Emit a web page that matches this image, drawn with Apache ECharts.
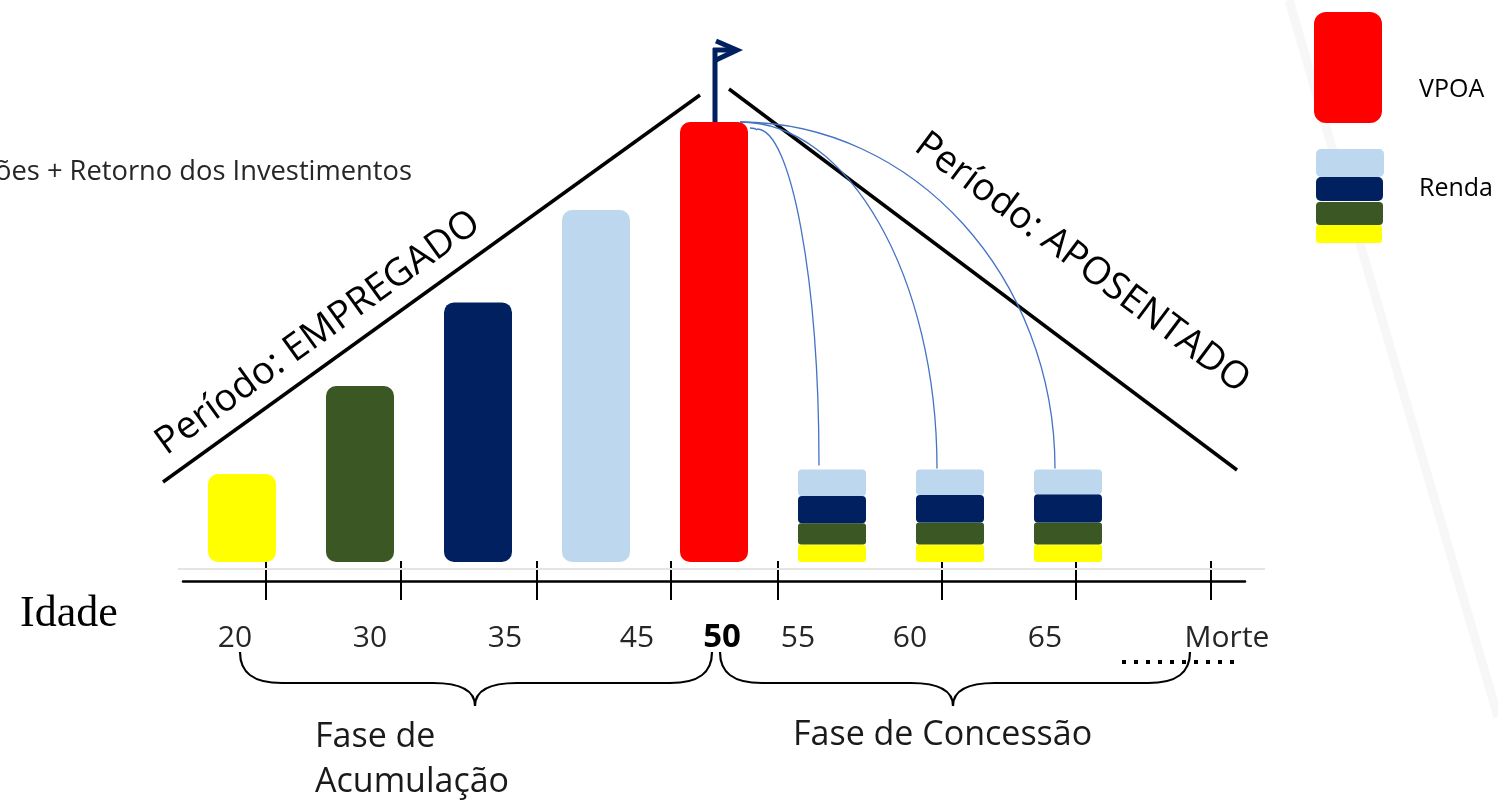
<!DOCTYPE html>
<html><head><meta charset="utf-8">
<script src="https://cdn.jsdelivr.net/npm/echarts@6/dist/echarts.min.js"></script>
<style>html,body{margin:0;padding:0;background:#fff}#c{width:1498px;height:802px}</style>
</head><body><div id="c"></div>
<script>
// ---- data ----
const ages = ['20', '30', '35', '45', '50', '55', '60', '65', 'Morte'];
const contribution = [1, 2, 2.95, 4, null, null, null, null, null];
const vpoa = [null, null, null, null, 5, null, null, null, null];
const rendaYellow = [null, null, null, null, null, 0.2, 0.2, 0.2, null];
const rendaGreen = [null, null, null, null, null, 0.24, 0.25, 0.25, null];
const rendaNavy = [null, null, null, null, null, 0.31, 0.31, 0.32, null];
const rendaLight = [null, null, null, null, null, 0.3, 0.29, 0.28, null];

// ---- layout / style (not data) ----
const stageColors = ['#FFFF00', '#3A5724', '#002060', '#BDD7EE'];
const labelNudge = [-7, 10, 27, 41, 8, -34, -40, -23, 41];
const tickSlots = [0.203, 1.347, 2.5, 3.636, 4.542, 5.932, 7.068, 8.212];
const FONT = '"Open Sans", "Noto Sans", sans-serif';

const rich = {};
ages.forEach((a, i) => {
  const d = labelNudge[i];
  rich['n' + i] = {
    fontFamily: FONT, fontSize: 30, color: '#262626', lineHeight: 36,
    padding: d >= 0 ? [0, 0, 0, 2 * d] : [0, -2 * d, 0, 0]
  };
});
rich.b = { fontFamily: FONT, fontSize: 33, fontWeight: 'bold', color: '#000', lineHeight: 36,
  padding: [0, 0, 0, 2 * labelNudge[4]] };

const chart = echarts.init(document.getElementById('c'));
const barBase = { type: 'bar', barWidth: 68, barGap: '-100%', xAxisIndex: 0, yAxisIndex: 0 };

chart.setOption({
  animation: false,
  backgroundColor: '#fff',
  grid: { left: 183, right: 253, top: 122, bottom: 240 },
  xAxis: [
    { type: 'category', data: ages, position: 'bottom',
      axisLine: { show: false },
      axisTick: { show: false },
      axisLabel: { interval: 0, margin: 58,
        formatter: (v, i) => (i === 4 ? '{b|' + v + '}' : '{n' + i + '|' + v + '}'), rich: rich },
      splitLine: { show: false } },
    { type: 'value', min: -0.5, max: 8.5, position: 'bottom', offset: 19,
      axisLine: { show: true, onZero: false, lineStyle: { color: '#000', width: 2.5 } },
      axisTick: { show: true, length: 19, customValues: tickSlots, lineStyle: { color: '#000', width: 2 } },
      axisLabel: { show: false }, splitLine: { show: false } },
    { type: 'value', min: -0.5, max: 8.5, position: 'bottom', offset: 19,
      axisLine: { show: false, onZero: false },
      axisTick: { show: true, inside: true, length: 20, customValues: tickSlots, lineStyle: { color: '#000', width: 2 } },
      axisLabel: { show: false }, splitLine: { show: false } }
  ],
  yAxis: { type: 'value', min: 0, max: 5, show: false },
  series: [
    Object.assign({}, barBase, { name: 'Contribuições',
      data: contribution.map((v, i) => ({ value: v, itemStyle: { color: stageColors[i] } })),
      itemStyle: { borderRadius: 10 } }),
    Object.assign({}, barBase, { name: 'VPOA', data: vpoa, itemStyle: { color: '#FF0000', borderRadius: 10 } }),
    Object.assign({}, barBase, { name: 'Renda 20', stack: 'renda', data: rendaYellow, itemStyle: { color: stageColors[0], borderRadius: 3 } }),
    Object.assign({}, barBase, { name: 'Renda 30', stack: 'renda', data: rendaGreen, itemStyle: { color: stageColors[1], borderRadius: 3 } }),
    Object.assign({}, barBase, { name: 'Renda 35', stack: 'renda', data: rendaNavy, itemStyle: { color: stageColors[2], borderRadius: 4 } }),
    Object.assign({}, barBase, { name: 'Renda 45', stack: 'renda', data: rendaLight, itemStyle: { color: stageColors[3], borderRadius: 4 } })
  ]
});

// ---- annotations ----
const g = [];
const deg = Math.PI / 180;
function line(x1, y1, x2, y2, color, w, extra) {
  g.push(Object.assign({ type: 'line', shape: { x1, y1, x2, y2 },
    style: { stroke: color, lineWidth: w, lineCap: 'butt' }, z: 50 }, extra || {}));
}
function bez(p, color, w) {
  g.push({ type: 'bezierCurve', shape: { x1: p[0], y1: p[1], cpx1: p[2], cpy1: p[3], cpx2: p[4], cpy2: p[5], x2: p[6], y2: p[7] },
    style: { stroke: color, lineWidth: w, fill: null }, z: 50 });
}
function text(t, x, y, size, opts) {
  opts = opts || {};
  g.push({ type: 'text', x: x, y: y, rotation: opts.rot || 0, z: 60,
    style: { text: t, x: 0, y: 0, fill: opts.color || '#000', font: (opts.weight || 'normal') + ' ' + size + 'px ' + (opts.family || FONT),
      textAlign: opts.align || 'left', textVerticalAlign: 'middle' } });
}

// faint background stripe
line(1289, 0, 1498, 717, '#f7f7f7', 9, { z: -10 });

// light baseline under the bars
line(178, 569, 1265, 569, '#e4e4e4', 2, { z: 5 });

// triangle
line(163, 482, 700, 95, '#000', 3.5);
line(729, 89, 1237, 470, '#000', 3.5);

// flag
line(715, 122, 715, 48, '#002060', 5);
g.push({ type: 'polyline', shape: { points: [[716, 41], [737, 50], [716, 60]] },
  style: { stroke: '#002060', lineWidth: 5, fill: null, lineJoin: 'miter' }, z: 50 });
line(713, 50, 733, 50, '#002060', 5);

// connectors from VPOA to the income stacks
const k = 0.5523;
const vTop = chart.convertToPixel({ seriesIndex: 1 }, [4, vpoa[4]]);
const vRight = vTop[0] + 26;
[5, 6, 7].forEach((c, j) => {
  const total = rendaYellow[c] + rendaGreen[c] + rendaNavy[c] + rendaLight[c];
  const p = chart.convertToPixel({ seriesIndex: 2 }, [c, total]);
  const x1 = p[0] - 13, y1 = p[1] - (j === 0 ? 4 : 1);
  const x0 = j === 0 ? vRight + 17 : vRight, y0 = j === 0 ? vTop[1] + 7 : vTop[1];
  if (j === 0) {
    bez([x0 - 7, y0 - 1, x0 - 3, y0 - 1, x0 - 1, y0, x0, y0 + 1], '#4472C4', 1.3);
  }
  bez([x0, y0, x0 + k * (x1 - x0), y0, x1, y1 - k * (y1 - y0), x1, y1], '#4472C4', 1.3);
});

// braces
function brace(xa, xb, xc) {
  const y0 = 652, y1 = 683, y2 = 706, r = 42;
  bez([xa, y0, xa, y0 + 20, xa + 12, y1, xa + r, y1], '#000', 2.2);
  line(xa + r, y1, xc - r, y1, '#000', 2.2);
  bez([xc - r, y1, xc - 14, y1, xc, y1 + 8, xc, y2], '#000', 2.2);
  bez([xc, y2, xc, y1 + 8, xc + 14, y1, xc + r, y1], '#000', 2.2);
  line(xc + r, y1, xb - r, y1, '#000', 2.2);
  bez([xb - r, y1, xb - 12, y1, xb, y0 + 20, xb, y0], '#000', 2.2);
}
brace(240, 712, 475);
brace(720, 1190, 953);

// dots
g.push({ type: 'line', shape: { x1: 1122, y1: 662, x2: 1240, y2: 662 }, z: 50,
  style: { stroke: '#000', lineWidth: 4, lineDash: [4, 8] } });

// texts
text('Contribuições + Retorno dos Investimentos', 412, 172, 27.3, { align: 'right', color: '#262626' });
text('Período: EMPREGADO', 318, 333, 38, { align: 'center', rot: 35.8 * deg });
text('Período: APOSENTADO', 1082, 263, 38, { align: 'center', rot: -36.9 * deg });
text('Idade', 20, 614, 44, { family: '"Liberation Serif", "DejaVu Serif", serif' });
text('Fase de', 315, 737, 34, { color: '#1a1a1a' });
text('Acumulação', 315, 782, 34, { color: '#1a1a1a' });
text('Fase de Concessão', 793, 735, 34, { color: '#1a1a1a' });

// legend
g.push({ type: 'rect', shape: { x: 1314, y: 12, width: 68, height: 111, r: 12 }, style: { fill: '#FF0000' }, z: 50 });
g.push({ type: 'rect', shape: { x: 1316, y: 149, width: 68, height: 28, r: 5 }, style: { fill: stageColors[3] }, z: 50 });
g.push({ type: 'rect', shape: { x: 1316, y: 177, width: 67, height: 24, r: 5 }, style: { fill: stageColors[2] }, z: 51 });
g.push({ type: 'rect', shape: { x: 1316, y: 202, width: 67, height: 23, r: 4 }, style: { fill: stageColors[1] }, z: 51 });
g.push({ type: 'rect', shape: { x: 1316, y: 225, width: 66, height: 18, r: 3 }, style: { fill: stageColors[0] }, z: 50 });
text('VPOA', 1419, 90, 25);
text('Renda', 1419, 189, 25);

chart.setOption({ graphic: g });
</script>
</body></html>
